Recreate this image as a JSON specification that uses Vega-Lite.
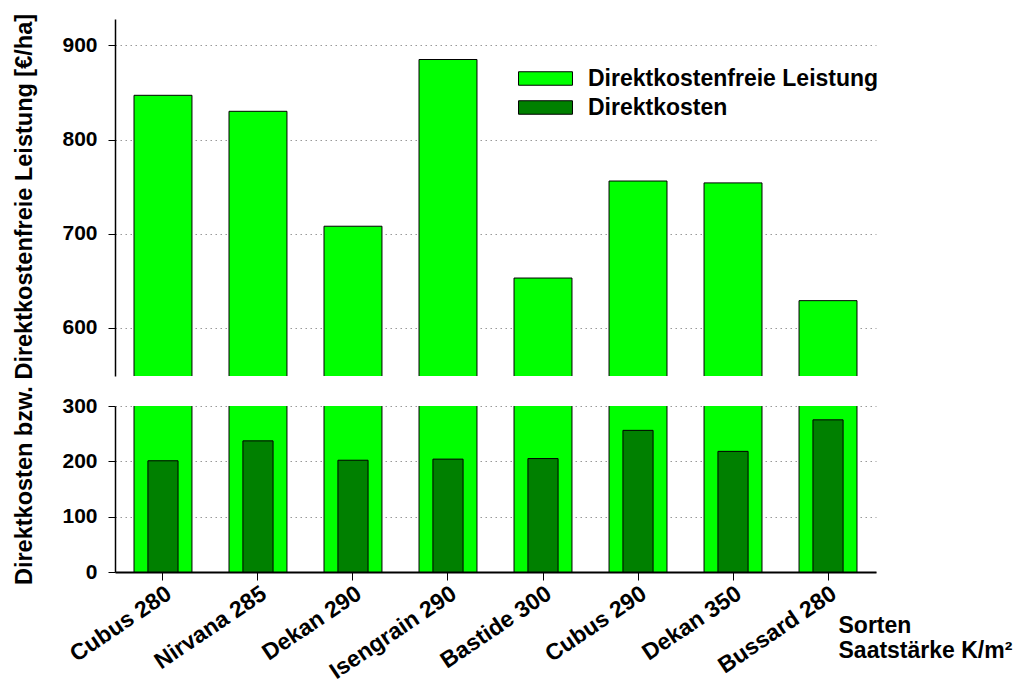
{
  "$schema": "https://vega.github.io/schema/vega-lite/v6.json",
  "padding": {"left": 12, "top": 13, "right": 5, "bottom": 5},
  "bounds": "flush",
  "spacing": 30,
  "config": {
    "font": "Liberation Sans",
    "view": {"stroke": null},
    "axis": {
      "labelFont": "Liberation Sans",
      "labelFontWeight": "bold",
      "labelColor": "black",
      "titleFont": "Liberation Sans",
      "titleFontWeight": "bold",
      "titleColor": "black",
      "domainColor": "black",
      "tickColor": "black",
      "gridColor": "#999999",
      "gridDash": [1.5, 3.5],
      "gridWidth": 1
    }
  },
  "datasets": {
    "d": [
      {"sorte": "Cubus 280", "kategorie": "Direktkostenfreie Leistung", "wert": 847},
      {"sorte": "Nirvana 285", "kategorie": "Direktkostenfreie Leistung", "wert": 830},
      {"sorte": "Dekan 290", "kategorie": "Direktkostenfreie Leistung", "wert": 708},
      {"sorte": "Isengrain 290", "kategorie": "Direktkostenfreie Leistung", "wert": 885},
      {"sorte": "Bastide 300", "kategorie": "Direktkostenfreie Leistung", "wert": 653},
      {"sorte": "Cubus 290", "kategorie": "Direktkostenfreie Leistung", "wert": 756},
      {"sorte": "Dekan 350", "kategorie": "Direktkostenfreie Leistung", "wert": 754},
      {"sorte": "Bussard 280", "kategorie": "Direktkostenfreie Leistung", "wert": 629},
      {"sorte": "Cubus 280", "kategorie": "Direktkosten", "wert": 201},
      {"sorte": "Nirvana 285", "kategorie": "Direktkosten", "wert": 237},
      {"sorte": "Dekan 290", "kategorie": "Direktkosten", "wert": 202},
      {"sorte": "Isengrain 290", "kategorie": "Direktkosten", "wert": 204},
      {"sorte": "Bastide 300", "kategorie": "Direktkosten", "wert": 205},
      {"sorte": "Cubus 290", "kategorie": "Direktkosten", "wert": 256},
      {"sorte": "Dekan 350", "kategorie": "Direktkosten", "wert": 218},
      {"sorte": "Bussard 280", "kategorie": "Direktkosten", "wert": 275}
    ]
  },
  "vconcat": [
    {
      "width": 761,
      "height": 357,
      "data": {"name": "d"},
      "transform": [{"filter": "datum.kategorie === 'Direktkostenfreie Leistung'"}],
      "mark": {"type": "bar", "clip": true, "stroke": "black", "strokeWidth": 1},
      "encoding": {
        "x": {
          "field": "sorte", "type": "nominal", "sort": null,
          "scale": {"paddingInner": 0.39, "paddingOuter": 0.2},
          "axis": null
        },
        "y": {
          "field": "wert", "type": "quantitative",
          "scale": {"domain": [549, 928], "zero": false, "nice": false},
          "axis": {
            "values": [600, 700, 800, 900],
            "grid": true,
            "tickSize": 7,
            "labelPadding": 11,
            "labelFontSize": 21,
            "domainWidth": 1.5,
            "title": "Direktkosten bzw. Direktkostenfreie Leistung [€/ha]",
            "titleFontSize": 23.5,
            "titlePadding": 25,
            "titleY": 280
          }
        },
        "y2": {"datum": 0},
        "color": {
          "field": "kategorie", "type": "nominal",
          "scale": {"domain": ["Direktkostenfreie Leistung", "Direktkosten"], "range": ["#00ff00", "#008000"]},
          "legend": {
            "title": null,
            "orient": "none",
            "legendX": 419,
            "legendY": 48,
            "symbolType": "M-4,-1H4V1H-4Z",
            "symbolSize": 182,
            "symbolStrokeColor": "black",
            "symbolStrokeWidth": 1,
            "symbolOpacity": 1,
            "labelFont": "Liberation Sans",
            "labelFontSize": 23,
            "labelFontWeight": "bold",
            "labelColor": "black",
            "labelOffset": 31,
            "labelLimit": 0,
            "rowPadding": 5
          }
        }
      }
    },
    {
      "width": 761,
      "height": 166,
      "data": {"name": "d"},
      "encoding": {
        "x": {
          "field": "sorte", "type": "nominal", "sort": null,
          "scale": {"paddingInner": 0.39, "paddingOuter": 0.2},
          "axis": {
            "labelAngle": -34,
            "labelAlign": "right",
            "labelBaseline": "top",
            "labelFontSize": 23,
            "labelPadding": 2,
            "tickSize": 8,
            "domainWidth": 2,
            "grid": false,
            "title": ["Sorten", "Saatstärke K/m²"],
            "titleFontSize": 23,
            "titleLineHeight": 25,
            "titleAlign": "left",
            "titleBaseline": "top",
            "titleX": 723,
            "titleY": 42
          }
        },
        "y": {
          "field": "wert", "type": "quantitative",
          "scale": {"domain": [0, 300], "nice": false},
          "axis": {
            "values": [0, 100, 200, 300],
            "grid": true,
            "tickSize": 7,
            "labelPadding": 11,
            "labelFontSize": 21,
            "domainWidth": 1.5,
            "title": null
          }
        },
        "color": {
          "field": "kategorie", "type": "nominal",
          "scale": {"domain": ["Direktkostenfreie Leistung", "Direktkosten"], "range": ["#00ff00", "#008000"]},
          "legend": {
            "title": null,
            "orient": "none",
            "legendX": 419,
            "legendY": 48,
            "symbolType": "M-4,-1H4V1H-4Z",
            "symbolSize": 182,
            "symbolStrokeColor": "black",
            "symbolStrokeWidth": 1,
            "symbolOpacity": 1,
            "labelFont": "Liberation Sans",
            "labelFontSize": 23,
            "labelFontWeight": "bold",
            "labelColor": "black",
            "labelOffset": 31,
            "labelLimit": 0,
            "rowPadding": 5
          }
        }
      },
      "layer": [
        {
          "transform": [{"filter": "datum.kategorie === 'Direktkostenfreie Leistung'"}],
          "mark": {"type": "bar", "clip": true, "stroke": "black", "strokeWidth": 1}
        },
        {
          "transform": [{"filter": "datum.kategorie === 'Direktkosten'"}],
          "mark": {"type": "bar", "stroke": "black", "strokeWidth": 1, "width": {"band": 0.52}}
        }
      ]
    }
  ]
}
